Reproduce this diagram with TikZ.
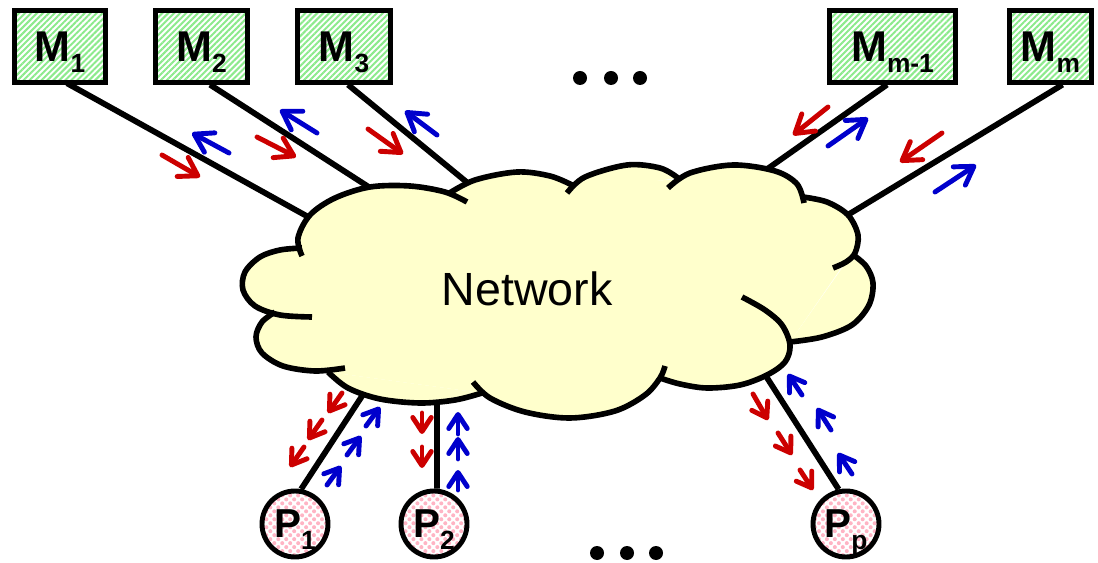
\documentclass[tikz,border=0pt]{standalone}
\usepackage{fontspec}
\setmainfont{Liberation Sans}
\usetikzlibrary{arrows.meta,calc,patterns.meta}

\pgfdeclarelayer{wires}
\pgfdeclarelayer{cloudfill}
\pgfsetlayers{wires,cloudfill,main}

\definecolor{cloudyellow}{RGB}{255,255,204}
\definecolor{reqred}{RGB}{204,0,0}
\definecolor{repblue}{RGB}{0,0,204}
\definecolor{memgreen}{RGB}{140,234,140}
\definecolor{procpink}{RGB}{255,180,196}

% memory and processor labels: big bold letter with a lowered index
\newcommand\mlabel[1]{{\fontsize{24.5}{24.5}\selectfont\bfseries M}\smash{\raisebox{-6.5pt}{\fontsize{15}{15}\selectfont\bfseries #1}}}
\newcommand\plabel[1]{{\fontsize{23}{23}\selectfont\bfseries P}\smash{\raisebox{-6.5pt}{\fontsize{15}{15}\selectfont\bfseries #1}}}

% one bump of the cloud: filled underneath, outline (with its inner tail) on top
\newcommand\cloudlobe[1]{%
  \begin{pgfonlayer}{cloudfill}\fill[cloudyellow] plot[smooth,tension=0.55] coordinates {#1} -- cycle;\end{pgfonlayer}%
  \draw[cloudedge] plot[smooth,tension=0.55] coordinates {#1};}

\tikzset{
  membox/.style={draw=black, line width=2.8pt, inner sep=0pt, minimum height=1.43cm,
    pattern={Lines[angle=45,distance=2.4pt,line width=1.15pt]}, pattern color=memgreen},
  procnode/.style={circle, draw=black, line width=2.8pt, inner sep=0pt, minimum size=1.32cm,
    pattern={Dots[radius=1.15pt,distance=3.2pt,angle=45]}, pattern color=procpink},
  wire/.style={draw=black, line width=3.3pt},
  cloudedge/.style={draw=black, line width=3.2pt, line cap=butt, line join=round},
  reqarrow/.style={draw=reqred, line width=2.8pt, line cap=round,
    -{Straight Barb[length=10pt,width=12.5pt,round]}},
  reparrow/.style={draw=repblue, line width=2.8pt, line cap=round,
    -{Straight Barb[length=10pt,width=12.5pt,round]}},
  reqsmall/.style={draw=reqred, line width=2.8pt, line cap=round,
    -{Straight Barb[length=8pt,width=10.5pt,round]}},
  repsmall/.style={draw=repblue, line width=2.8pt, line cap=round,
    -{Straight Barb[length=8pt,width=10.5pt,round]}},
  ellipsisdot/.style={fill=black}
}

\begin{document}
\begin{tikzpicture}[x=0.02cm,y=-0.02cm]
\useasboundingbox (0,0) rectangle (1098,563);

% memory modules
\node[membox, minimum width=1.82cm] (m1) at (60,46.5) {\mlabel{1}};
\node[membox, minimum width=1.84cm] (m2) at (201.5,46.5) {\mlabel{2}};
\node[membox, minimum width=1.86cm] (m3) at (344,46.5) {\mlabel{3}};
\node[membox, minimum width=2.52cm] (mm1) at (892.5,46.5) {\mlabel{m-1}};
\node[membox, minimum width=1.64cm] (mm) at (1050.5,46.5) {\mlabel{m}};

% processors
\node[procnode] (p1) at (295,524) {\plabel{1}};
\node[procnode] (p2) at (434,524) {\plabel{2}};
\node[procnode] (pp) at (846,524) {\plabel{p}};

% where the links enter the cloud
\coordinate (cm1) at (312,219);
\coordinate (cm2) at (375,191);
\coordinate (cm3) at (469,184);
\coordinate (cmm1) at (763,172);
\coordinate (cmm) at (846,216);
\coordinate (cp1) at (366,390);
\coordinate (cp2) at (437,398);
\coordinate (cpp) at (762,370);

% links, kept under the cloud
\begin{pgfonlayer}{wires}
\draw[wire] ($(m1.south)+(7,0)$) -- (cm1);
\draw[wire] ($(m2.south)+(8.5,0)$) -- (cm2);
\draw[wire] ($(m3.south)+(4,0)$) -- (cm3);
\draw[wire] ($(mm1.south)+(-5.5,0)$) -- (cmm1);
\draw[wire] ($(mm.south)+(12,0)$) -- (cmm);
\draw[wire] (p1.80) -- (cp1);
\draw[wire] (p2.85) -- (cp2);
\draw[wire] (pp.102) -- (cpp);
\end{pgfonlayer}

% the network cloud
\begin{pgfonlayer}{cloudfill}
\fill[cloudyellow] (302,250) -- (330,200) -- (448,193) -- (570,183) -- (672,180)
  -- (803,198) -- (850,255) -- (790,342) -- (660,378) -- (482,393) -- (328,372)
  -- (275,312) -- (262,290) -- cycle;
\end{pgfonlayer}
\cloudlobe{(302,256) (298,238) (310,215) (335,198) (370,187) (410,186) (445,192) (467,202)}
\cloudlobe{(448,194) (475,180) (517,172) (550,176) (572,185)}
\cloudlobe{(567,193) (585,177) (627,165) (660,168) (678,178)}
\cloudlobe{(668,188) (690,173) (733,165) (775,171) (797,184) (804,203)}
\cloudlobe{(803,197) (827,202) (848,215) (858,235) (855,253) (846,262) (833,268)}
\cloudlobe{(852,254) (866,266) (873,283) (869,305) (852,325) (822,337) (790,342)}
\cloudlobe{(742,297) (765,310) (782,325) (790,345) (785,362) (767,375) (740,385) (707,388) (680,384) (660,378)}
\cloudlobe{(473,382) (490,398) (525,412) (570,418) (615,411) (645,395) (660,378) (665,366)}
\cloudlobe{(328,372) (348,388) (380,399) (420,403) (455,400) (482,393)}
\cloudlobe{(275,312) (262,322) (256,337) (262,353) (283,366) (315,371) (345,368)}
\cloudlobe{(302,248) (280,250) (260,257) (245,272) (243,290) (255,306) (280,315) (312,317)}
\node (net) at (527,289) {\fontsize{26.5}{26.5}\selectfont Network};

% traffic between the memories and the network
\draw[reqarrow] (162,155) -- (200,177);
\draw[reqarrow] (257,137) -- (296,157);
\draw[reqarrow] (368,129) -- (403,154);
\draw[reqarrow] (828,107) -- (793,135);
\draw[reqarrow] (942,133) -- (900,162);
\draw[reparrow] (229,153) -- (192,133);
\draw[reparrow] (317,133) -- (280,110);
\draw[reparrow] (437,135) -- (405,111);
\draw[reparrow] (828,146) -- (868,118);
\draw[reparrow] (935,192) -- (976,165);

% traffic between the processors and the network
\draw[reqsmall] (342,393) -- (328,413);
\draw[reqsmall] (322,420) -- (308,440);
\draw[reqsmall] (304,447) -- (290,467);
\draw[repsmall] (327,485) -- (341,466);
\draw[repsmall] (347,455) -- (361,436);
\draw[repsmall] (366,426) -- (380,407);
\draw[reqsmall] (422,413) -- (422,434);
\draw[reqsmall] (422,447) -- (422,468);
\draw[repsmall] (458,490) -- (458,470);
\draw[repsmall] (458,459) -- (458,437);
\draw[repsmall] (458,434) -- (458,412);
\draw[reqsmall] (753,394) -- (768,420);
\draw[reqsmall] (778,433) -- (792,455);
\draw[reqsmall] (800,470) -- (813,490);
\draw[repsmall] (802,395) -- (788,374);
\draw[repsmall] (831,430) -- (817,408);
\draw[repsmall] (852,474) -- (838,453);

% ellipses
\foreach \x in {580,611,640} \fill[ellipsisdot] (\x,78) circle (7);
\foreach \x in {597,627,656} \fill[ellipsisdot] (\x,553) circle (7);
\end{tikzpicture}
\end{document}
